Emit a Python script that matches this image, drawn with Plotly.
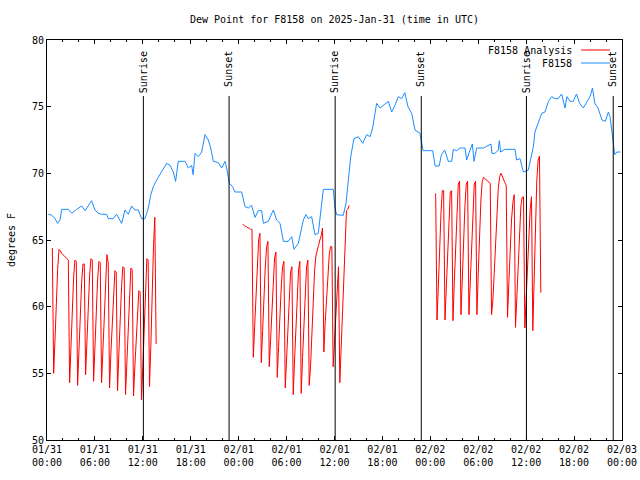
import pandas as pd
import plotly.graph_objects as go

# ---------------- data ----------------
base_time = "2025-01-31 00:00"

# F8158 observations: hours after base_time, dew point (F)
blue_hours = [0.17, 0.58, 1.0, 1.34, 1.63, 1.84, 2.67, 3.09, 3.71, 4.34, 4.76, 5.18, 5.59, 6.0,
              6.43, 6.84, 7.47, 7.68, 8.3, 8.72, 9.0, 9.35, 9.77, 10.18, 10.6, 11.0, 11.44, 11.85,
              12.27, 12.69, 13.0, 13.31, 13.73, 14.15, 14.57, 14.98, 15.4, 15.82, 16.1, 16.44,
              17.28, 17.7, 18.11, 18.3, 18.53, 18.95, 19.37, 19.78, 20.2, 20.5, 20.83, 21.45,
              21.87, 22.29, 22.5, 22.83, 23.25, 23.54, 24.38, 24.8, 25.2, 25.6, 26.05, 26.46,
              26.88, 27.1, 27.7, 28.34, 28.76, 29.18, 29.6, 30.2, 30.64, 30.93, 31.47, 31.77,
              32.1, 32.43, 32.72, 33.14, 33.56, 33.97, 34.27, 34.6, 35.85, 36.06, 36.27, 37.1,
              37.44, 37.73, 38.03, 38.44, 38.98, 39.53, 40.03, 40.45, 40.78, 41.07, 41.28, 41.7,
              42.1, 42.74, 43.16, 43.58, 43.99, 44.4, 44.8, 45.2, 45.67, 46.08, 46.7, 46.95,
              47.1, 48.3, 48.6, 49.1, 49.4, 49.8, 50.25, 50.67, 50.88, 51.3, 51.7, 52.34, 52.55,
              52.97, 53.26, 53.47, 53.8, 54.64, 55.6, 55.7, 56.1, 56.5, 56.64, 56.8, 57.35, 58.6,
              58.8, 59.23, 59.44, 59.65, 60.27, 60.7, 60.9, 61.1, 61.5, 61.95, 62.36, 62.78,
              63.2, 63.6, 64.0, 64.45, 64.86, 65.1, 65.5, 65.9, 66.3, 66.7, 67.15, 67.6, 68.0,
              68.3, 68.6, 69.0, 69.5, 69.9, 70.3, 70.5, 70.7, 70.9, 71.1, 71.35, 71.8]
blue_vals = [66.93, 66.87, 66.6, 66.25, 66.5, 67.3, 67.3, 67.0, 67.3, 67.55, 67.2, 67.6, 67.95, 67.25,
             67.0, 66.93, 66.93, 66.6, 66.6, 66.93, 66.6, 66.25, 67.25, 66.93, 67.55, 67.25, 67.25, 66.6,
             66.6, 67.4, 68.4, 69.0, 69.5, 69.9, 70.4, 70.75, 70.6, 70.1, 69.4, 70.9,
             70.9, 70.4, 70.6, 69.9, 71.5, 71.25, 71.6, 72.9, 72.5, 71.9, 70.9, 70.8,
             70.4, 70.9, 70.4, 69.25, 69.0, 68.6, 68.6, 67.5, 67.4, 67.6, 66.7, 67.2,
             67.2, 66.25, 66.4, 67.25, 66.5, 66.25, 64.9, 64.9, 65.25, 64.3, 64.75, 65.5,
             66.5, 66.9, 66.6, 66.75, 65.4, 65.5, 67.25, 68.8, 68.8, 67.4, 66.9, 66.85,
             67.75, 69.25, 71.25, 72.6, 72.75, 72.25, 72.9, 72.75, 73.4, 74.5, 75.25, 74.9,
             75.1, 75.4, 74.6, 75.1, 75.75, 75.6, 76.05, 75.0, 74.5, 73.25, 73.0, 72.3,
             71.7, 71.7, 70.55, 70.55, 71.4, 71.75, 70.9, 70.9, 71.8, 71.7, 71.9, 71.9, 71.0,
             71.75, 72.2, 70.9, 71.9, 71.9, 72.2, 71.5, 71.5, 71.75, 72.45, 71.6, 71.8, 71.8,
             71.0, 71.1, 70.5, 70.1, 70.25, 71.4, 72.0, 73.1, 73.75, 74.5, 74.6, 75.4,
             75.75, 75.6, 75.6, 75.95, 74.9, 75.75, 75.4, 75.4, 75.95, 75.25, 74.9, 75.4, 75.75,
             76.4, 75.25, 74.9, 74.0, 73.9, 74.6, 74.25, 73.25, 72.5, 71.4, 71.6, 71.6]

# F8158 Analysis: three runs, 10-minute steps from each start time
analysis_step = "10min"
analysis_starts = ["2025-01-31 00:40", "2025-02-01 00:30", "2025-02-02 00:40"]
analysis_day1 = [64.4, 55.0, 57.5, 60.5, 62.8, 64.3, 64.2, 64.0, 63.9, 63.8, 63.7, 63.6, 63.5,
                 54.3, 57.0, 60.0, 62.2, 63.5, 63.4,
                 54.1, 56.8, 59.5, 61.8, 63.2, 63.2,
                 54.9, 57.5, 60.0, 62.3, 63.6, 63.5,
                 54.4, 57.0, 59.8, 62.0, 63.4, 63.3,
                 54.3, 57.0, 60.0, 62.5, 63.9, 63.3,
                 53.9, 56.5, 59.0, 61.2, 62.7, 62.6,
                 53.7, 56.5, 59.2, 61.5, 63.0, 62.9,
                 53.4, 56.0, 58.8, 61.2, 62.9, 62.8,
                 53.3, 55.5, 57.6, 59.7, 61.2, 61.1,
                 53.0, 55.5, 58.0, 61.5, 63.6, 63.5,
                 54.0, 57.0, 61.0, 64.5, 66.7, 57.2]
analysis_day2 = [66.2, 66.1, 66.0, 66.0, 65.9, 65.9, 65.8, 65.8,
                 56.2, 58.5, 61.0, 63.5, 65.0, 65.5,
                 55.8, 58.2, 60.8, 63.0, 64.5, 64.9,
                 55.5, 57.8, 60.2, 62.3, 63.7, 64.1,
                 54.7, 57.0, 59.5, 61.5, 63.0, 63.4,
                 53.9, 56.3, 58.8, 61.0, 62.6, 63.0,
                 53.4, 56.0, 58.6, 61.0, 62.8, 63.4,
                 53.5, 56.2, 58.8, 61.2, 63.0, 63.5,
                 54.1, 55.5, 58.0, 60.5, 62.6, 63.8, 64.3, 64.6, 65.0, 65.3, 65.9,
                 56.6, 58.8, 60.8, 62.5, 63.8, 64.5, 64.5,
                 55.5, 57.5, 60.0, 62.0, 63.0,
                 54.3, 57.0, 59.5, 62.3, 65.5, 67.2, 67.3, 67.6]
analysis_day3 = [68.5, 59.0, 61.5, 64.5, 67.0, 68.7, 68.7,
                 59.0, 61.5, 64.5, 67.0, 68.6, 68.7,
                 58.95, 61.8, 64.8, 67.5, 69.2, 69.4,
                 59.4, 62.0, 65.0, 67.6, 69.2, 69.4,
                 59.4, 62.0, 65.0, 67.6, 69.2, 69.4,
                 59.4, 62.5, 65.5, 68.0, 69.4, 69.7, 69.6, 69.5, 69.4, 69.3, 69.25,
                 59.4, 60.5, 62.5, 64.8, 67.0, 68.8, 69.7, 70.0, 69.8, 69.5, 69.3, 69.1,
                 59.2, 61.8, 64.5, 66.5, 67.8, 68.4,
                 58.45, 61.0, 63.5, 65.8, 67.5, 68.2, 68.25,
                 58.4, 60.5, 63.0, 65.5, 67.3, 68.25,
                 58.2, 62.0, 66.5, 69.5, 71.0, 71.3, 61.05]

sun_times = ["2025-01-31 12:04", "2025-01-31 22:48", "2025-02-01 12:05",
             "2025-02-01 22:52", "2025-02-02 12:02", "2025-02-02 22:54"]
sun_labels = ["Sunrise", "Sunset", "Sunrise", "Sunset", "Sunrise", "Sunset"]

x_start, x_end = "2025-01-31 00:00", "2025-02-03 00:00"
tick_times = pd.date_range(x_start, x_end, freq="6h")
tick_labels = [t.strftime("%m/%d") + "<br>" + t.strftime("%H:%M") for t in tick_times]
y_ticks = [50, 55, 60, 65, 70, 75, 80]

title_text = "Dew Point for F8158 on 2025-Jan-31 (time in UTC)"
series_names = ["F8158 Analysis", "F8158"]
RED = "#ff0000"
BLUE = "#1a8cff"
FONT = "DejaVu Sans Mono"

# ---------------- build ----------------
blue_x = [pd.Timestamp(base_time) + pd.Timedelta(hours=h) for h in blue_hours]

red_x, red_y = [], []
for start, vals in zip(analysis_starts, [analysis_day1, analysis_day2, analysis_day3]):
    times = pd.date_range(start, periods=len(vals), freq=analysis_step)
    red_x += list(times) + [None]
    red_y += list(vals) + [None]

fig = go.Figure()
fig.add_trace(go.Scatter(x=red_x, y=red_y, mode="lines", name=series_names[0],
                         line=dict(color=RED, width=1), connectgaps=False, showlegend=False))
fig.add_trace(go.Scatter(x=blue_x, y=blue_vals, mode="lines", name=series_names[1],
                         line=dict(color=BLUE, width=1), showlegend=False))

shapes, annotations = [], []
for t, lab in zip(sun_times, sun_labels):
    shapes.append(dict(type="line", xref="x", yref="paper", x0=t, x1=t, y0=0, y1=0.86,
                       line=dict(color="black", width=1)))
    annotations.append(dict(x=t, y=0.978, xref="x", yref="paper", text=lab, textangle=-90,
                            showarrow=False, xanchor="center", yanchor="top",
                            font=dict(family=FONT, size=10, color="black")))

# legend drawn gnuplot-style: text right-aligned, sample line to its right
for i, (name, col) in enumerate(zip(series_names, [RED, BLUE])):
    ypos = 1 - (10 + 13 * i) / 400
    annotations.append(dict(x=(574 - 47) / 575, y=ypos, xref="paper", yref="paper", text=name,
                            showarrow=False, xanchor="right", yanchor="middle",
                            font=dict(family=FONT, size=10, color="black")))
    shapes.append(dict(type="line", xref="paper", yref="paper",
                       x0=(581 - 47) / 575, x1=(610 - 47) / 575, y0=ypos, y1=ypos,
                       line=dict(color=col, width=1)))

fig.update_layout(
    width=640, height=480,
    margin=dict(l=47, r=18, t=40, b=40, autoexpand=False),
    paper_bgcolor="white", plot_bgcolor="white",
    font=dict(family=FONT, size=10, color="black"),
    title=dict(text=title_text, x=0.5, xref="paper", xanchor="center",
               y=1 - 19 / 480, yanchor="middle", font=dict(family=FONT, size=10)),
    shapes=shapes, annotations=annotations,
    showlegend=False,
)
fig.update_xaxes(
    type="date", range=[x_start, x_end],
    tickvals=list(tick_times), ticktext=tick_labels,
    ticks="inside", ticklen=4, tickcolor="black",
    showline=True, linecolor="black", linewidth=1, mirror="allticks",
    showgrid=False, zeroline=False, automargin=False,
    minor=dict(dtick=2 * 3600 * 1000, ticks="inside", ticklen=2, tickcolor="black", showgrid=False),
    tickfont=dict(family=FONT, size=10),
)
fig.update_yaxes(
    range=[50, 80], tickvals=y_ticks,
    ticks="inside", ticklen=4, tickcolor="black",
    showline=True, linecolor="black", linewidth=1, mirror="allticks",
    showgrid=False, zeroline=False, automargin=False,
    title=dict(text="degrees F", standoff=14, font=dict(family=FONT, size=10)),
    tickfont=dict(family=FONT, size=10),
)

fig.write_html(
    "out.html",
    config={"responsive": False, "displayModeBar": False},
    post_script="document.body.style.margin='0';document.body.style.overflow='hidden';",
)
